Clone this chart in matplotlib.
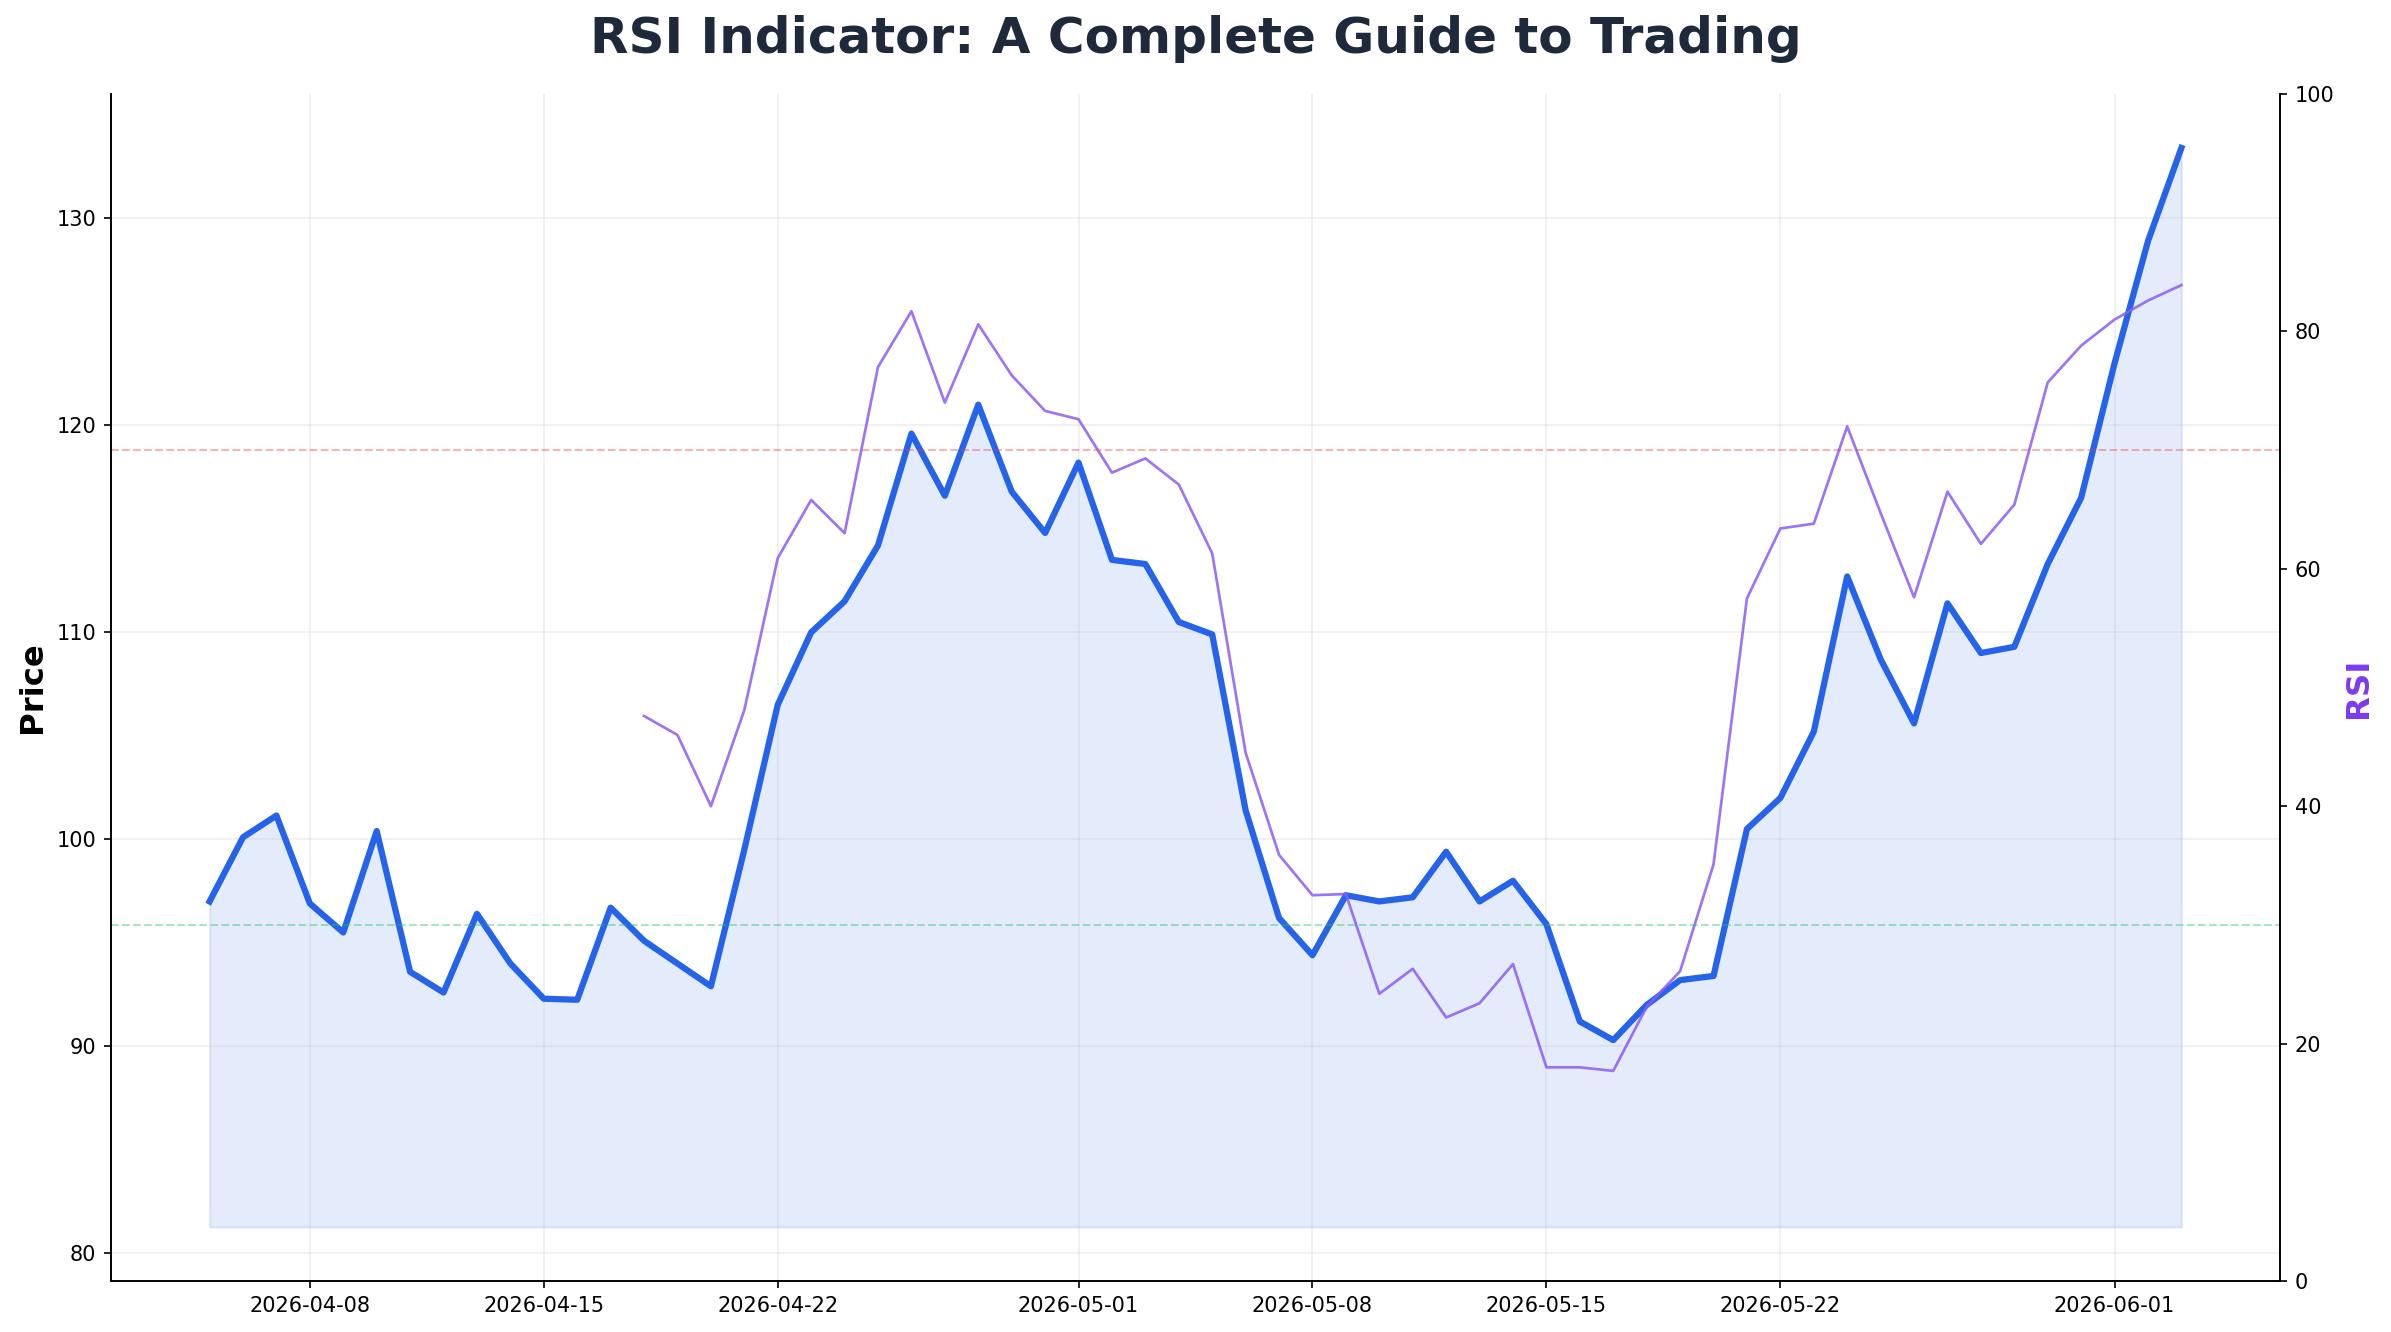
import numpy as np
import pandas as pd
import matplotlib
matplotlib.use("Agg")
import matplotlib.pyplot as plt

start_date = "2026-04-05"
n_days = 60
price = [97.0, 100.1, 101.15, 96.9, 95.5, 100.4, 93.6, 92.6, 96.4, 94.0,
         92.3, 92.25, 96.7, 95.1, 94.0, 92.9, 99.5, 106.5, 110.0, 111.5,
         114.2, 119.6, 116.6, 121.0, 116.8, 114.8, 118.2, 113.5, 113.3, 110.5,
         109.9, 101.4, 96.2, 94.4, 97.3, 97.0, 97.2, 99.4, 97.0, 98.0,
         95.9, 91.2, 90.3, 92.0, 93.2, 93.4, 100.5, 102.0, 105.2, 112.7,
         108.7, 105.6, 111.4, 109.0, 109.3, 113.3, 116.5, 123.0, 128.9, 133.4]
rsi_start_index = 13
rsi_values = [47.6, 46.0, 40.0, 48.1, 60.9, 65.8, 63.0, 77.0, 81.7, 74.0,
              80.6, 76.3, 73.3, 72.6, 68.1, 69.3, 67.1, 61.3, 44.5, 35.9,
              32.5, 32.6, 24.2, 26.3, 22.2, 23.4, 26.7, 18.0, 18.0, 17.7,
              23.1, 26.1, 35.1, 57.5, 63.4, 63.8, 72.0, 64.7, 57.6, 66.5,
              62.1, 65.4, 75.7, 78.8, 81.0, 82.6, 83.9]
overbought = 70
oversold = 30

dates = pd.date_range(start_date, periods=n_days, freq="D")
rsi = np.full(n_days, np.nan)
rsi[rsi_start_index:] = rsi_values
price_arr = np.array(price)

fig = plt.figure(figsize=(2391 / 150, 1332 / 150), dpi=150)
ax1 = fig.add_axes([111 / 2391, 1 - 1281 / 1332, (2280 - 111) / 2391, (1281 - 94) / 1332])
ax2 = ax1.twinx()

ax1.fill_between(dates, price_arr, price_arr.min() * 0.9, color="#2563eb", alpha=0.12)
ax1.plot(dates, price_arr, color="#2563eb", lw=3)
ax1.set_ylabel("Price", fontsize=15.5, fontweight="bold")
ax1.grid(True, alpha=0.2)

ax2.plot(dates, rsi, color="#8b5cf6", lw=1.3, alpha=0.85)
ax2.axhline(overbought, color="#ef4444", ls="--", lw=1, alpha=0.4)
ax2.axhline(oversold, color="#22c55e", ls="--", lw=1, alpha=0.4)
ax2.set_ylim(0, 100)
ax2.set_ylabel("RSI", fontsize=15.5, fontweight="bold", color="#7c3aed")

for ax in (ax1, ax2):
    ax.spines["top"].set_visible(False)
    ax.tick_params(labelsize=10)

fig.suptitle("RSI Indicator: A Complete Guide to Trading", fontsize=24,
             fontweight="bold", color="#1e293b", y=0.971, va="center")

fig.savefig("out.png", dpi=150)
